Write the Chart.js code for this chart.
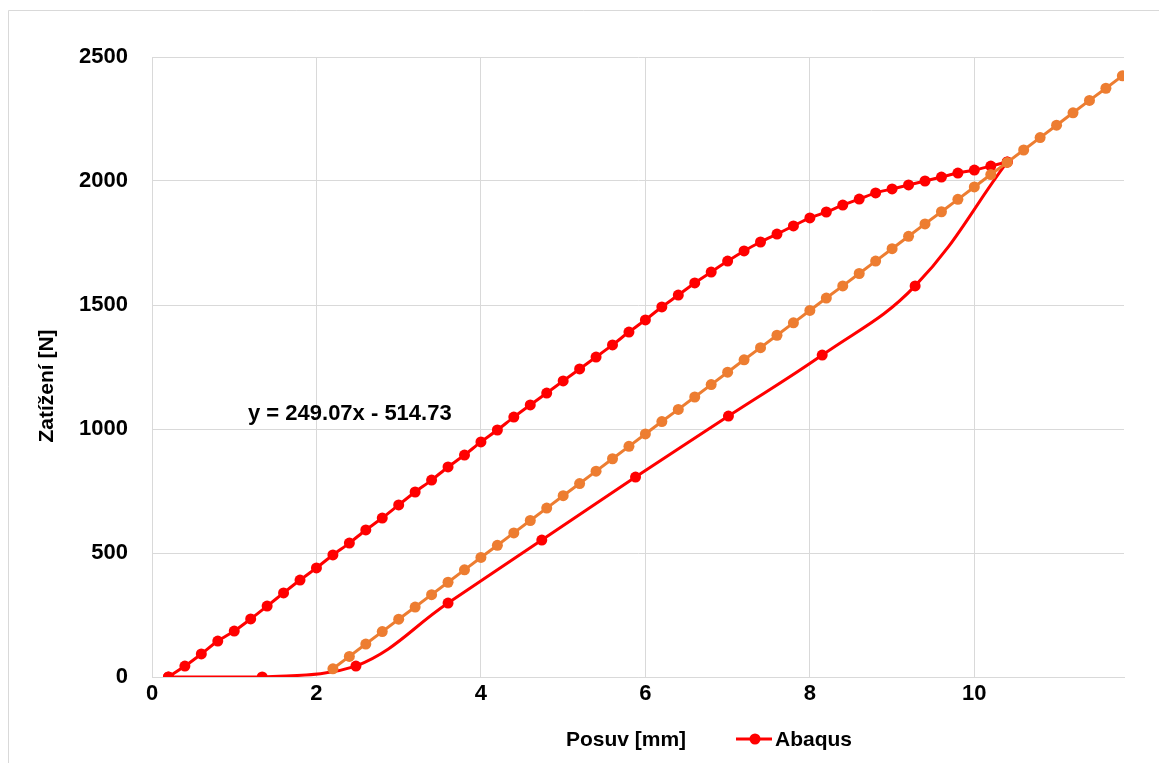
<!DOCTYPE html>
<html>
<head>
<meta charset="utf-8">
<script src="https://cdn.jsdelivr.net/npm/chart.js@4"></script>
<style>
  html, body { margin: 0; padding: 0; background: #fff; }
  #wrap { width: 1159px; height: 763px; position: relative; }
</style>
</head>
<body>
<div id="wrap"><canvas id="chart" width="1159" height="763"></canvas></div>
<script>
// loading curve (Abaqus), x step 0.2 mm
const loadX = [0.2, 0.4, 0.6, 0.8, 1.0, 1.2, 1.4, 1.6, 1.8, 2.0, 2.2, 2.4, 2.6, 2.8, 3.0, 3.2, 3.4, 3.6, 3.8, 4.0,
    4.2, 4.4, 4.6, 4.8, 5.0, 5.2, 5.4, 5.6, 5.8, 6.0, 6.2, 6.4, 6.6, 6.8, 7.0, 7.2, 7.4, 7.6, 7.8, 8.0,
    8.2, 8.4, 8.6, 8.8, 9.0, 9.2, 9.4, 9.6, 9.8, 10.0, 10.2, 10.4];
const loadY = [0, 44, 93, 145, 185, 234, 286, 339, 391, 440, 492, 540, 593, 641, 694, 746, 794, 847, 895, 948,
    996, 1048, 1097, 1145, 1194, 1242, 1290, 1339, 1391, 1440, 1492, 1540, 1589, 1633, 1677, 1718, 1754, 1786, 1819, 1851,
    1875, 1903, 1927, 1952, 1968, 1984, 2000, 2016, 2032, 2044, 2060, 2077];

// unloading curve (Abaqus)
const unloadX = [10.4, 9.28, 8.15, 7.01, 5.88, 4.74, 3.6, 2.48, 1.34, 0.2];
const unloadY = [2077, 1577, 1298, 1052, 806, 552, 298, 44, 0, 0];

// linear part (orange) with trend line label
const linX = [2.2, 2.4, 2.6, 2.8, 3.0, 3.2, 3.4, 3.6, 3.8, 4.0, 4.2, 4.4, 4.6, 4.8, 5.0, 5.2, 5.4, 5.6, 5.8, 6.0,
    6.2, 6.4, 6.6, 6.8, 7.0, 7.2, 7.4, 7.6, 7.8, 8.0, 8.2, 8.4, 8.6, 8.8, 9.0, 9.2, 9.4, 9.6, 9.8, 10.0,
    10.2, 10.4, 10.6, 10.8, 11.0, 11.2, 11.4, 11.6, 11.8];
const linY = [33, 83, 133, 183, 233, 282, 332, 382, 432, 482, 531, 581, 631, 681, 731, 780, 830, 880, 930, 980,
    1030, 1079, 1129, 1179, 1229, 1279, 1328, 1378, 1428, 1478, 1528, 1577, 1627, 1677, 1727, 1777, 1827, 1876, 1926, 1976,
    2026, 2075, 2125, 2175, 2225, 2275, 2325, 2374, 2424];

const xTicks = [0, 2, 4, 6, 8, 10];
const yTicks = [0, 500, 1000, 1500, 2000, 2500];
const trendText = 'y = 249.07x - 514.73';
const xTitle = 'Posuv [mm]';
const yTitle = 'Zatížení [N]';
const legendText = 'Abaqus';

const RED = '#FF0000';
const ORANGE = '#ED7D31';
const FONT = '"Liberation Sans", Arial, sans-serif';

function pts(xs, ys) {
    return xs.map((x, i) => ({x: x, y: ys[i]}));
}

const extras = {
    id: 'extras',
    beforeDraw(chart) {
        const ctx = chart.ctx;
        ctx.save();
        ctx.fillStyle = '#fff';
        ctx.fillRect(0, 0, chart.width, chart.height);
        // outer frame
        ctx.strokeStyle = '#d9d9d9';
        ctx.lineWidth = 1;
        ctx.beginPath();
        ctx.moveTo(8.5, chart.height);
        ctx.lineTo(8.5, 10.5);
        ctx.lineTo(chart.width, 10.5);
        ctx.stroke();
        ctx.restore();
    },
    afterDraw(chart) {
        const ctx = chart.ctx;
        ctx.save();
        ctx.fillStyle = '#000';
        ctx.textBaseline = 'middle';

        ctx.font = 'bold 22px ' + FONT;
        ctx.textAlign = 'left';
        ctx.fillText(trendText, 248, 414);

        // axis titles
        ctx.font = 'bold 21px ' + FONT;
        ctx.textAlign = 'center';
        ctx.fillText(xTitle, 626, 740);
        ctx.save();
        ctx.translate(47, 386);
        ctx.rotate(-Math.PI / 2);
        ctx.fillText(yTitle, 0, 0);
        ctx.restore();

        // legend item
        ctx.strokeStyle = RED;
        ctx.lineWidth = 3;
        ctx.beginPath();
        ctx.moveTo(736, 739);
        ctx.lineTo(772, 739);
        ctx.stroke();
        ctx.fillStyle = RED;
        ctx.beginPath();
        ctx.arc(755, 739, 5.5, 0, Math.PI * 2);
        ctx.fill();
        ctx.fillStyle = '#000';
        ctx.textAlign = 'left';
        ctx.fillText(legendText, 775, 740);
        ctx.restore();
    }
};

const chart = document.getElementById('chart');
const common = {showLine: true, borderWidth: 3, pointRadius: 5.5, pointBorderWidth: 0};
new Chart(chart, {
    type: 'scatter',
    data: {
        datasets: [
            Object.assign({
                label: 'Abaqus',
                data: pts(loadX, loadY),
                borderColor: RED,
                backgroundColor: RED,
                tension: 0.3,
                order: 1
            }, common),
            Object.assign({
                label: 'Abaqus unload',
                data: pts(unloadX, unloadY),
                borderColor: RED,
                backgroundColor: RED,
                tension: 0.4,
                order: 2
            }, common),
            Object.assign({
                label: 'Linear',
                data: pts(linX, linY),
                borderColor: ORANGE,
                backgroundColor: ORANGE,
                tension: 0,
                order: 0
            }, common)
        ]
    },
    options: {
        responsive: false,
        animation: false,
        layout: {padding: {left: 0, right: 35, top: 57, bottom: 0}},
        plugins: {
            legend: {display: false},
            tooltip: {enabled: false}
        },
        scales: {
            x: {
                type: 'linear',
                min: 0,
                max: 11.82,
                afterBuildTicks: s => { s.ticks = xTicks.map(v => ({value: v})); },
                afterFit: s => { s.height = 86; },
                grid: {color: '#d9d9d9', drawTicks: false},
                border: {color: '#d9d9d9'},
                ticks: {
                    padding: 4,
                    color: '#000',
                    callback: v => String(v),
                    font: {family: FONT, size: 22, weight: 'bold'}
                }
            },
            y: {
                type: 'linear',
                min: 0,
                max: 2500,
                afterBuildTicks: s => { s.ticks = yTicks.map(v => ({value: v})); },
                afterFit: s => { s.width = 152; },
                grid: {color: '#d9d9d9', drawTicks: false},
                border: {color: '#d9d9d9'},
                ticks: {
                    padding: 24,
                    color: '#000',
                    callback: v => String(v),
                    font: {family: FONT, size: 22, weight: 'bold'}
                }
            }
        }
    },
    plugins: [extras]
});
</script>
</body>
</html>
